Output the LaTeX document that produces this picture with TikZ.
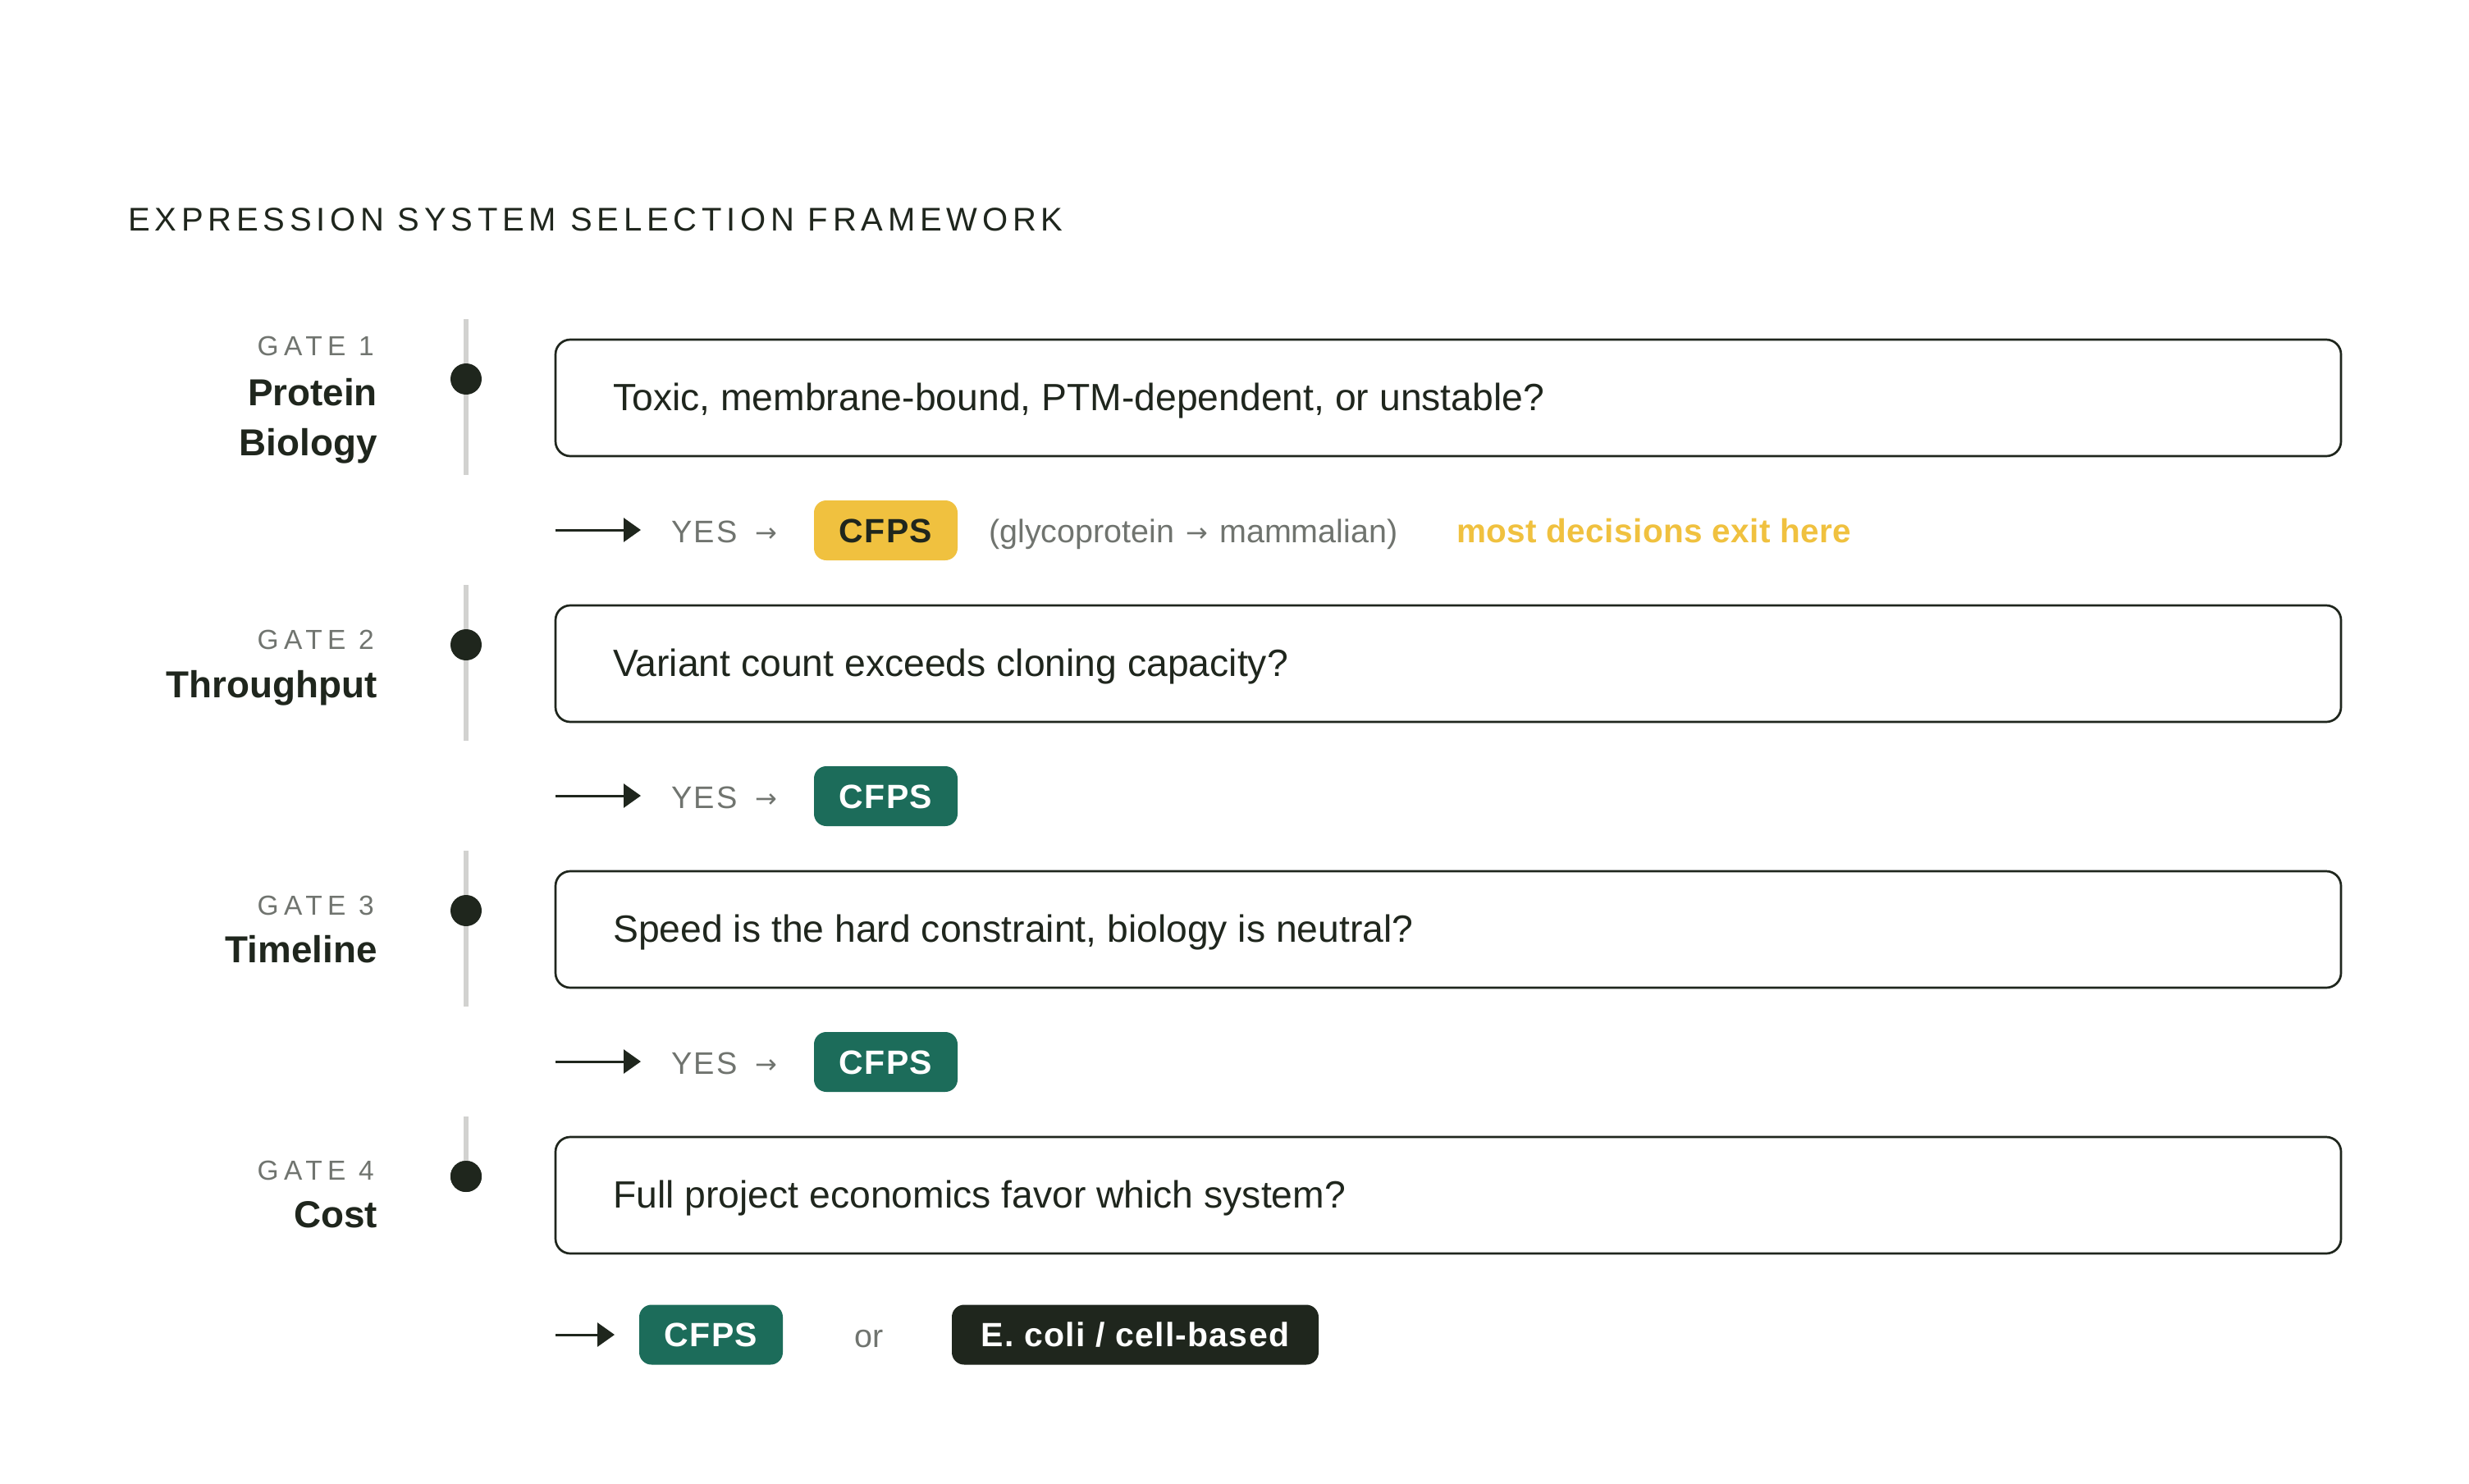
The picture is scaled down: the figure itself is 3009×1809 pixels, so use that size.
\documentclass[tikz,border=0pt]{standalone}
\usepackage{fontspec}
\setmainfont{Liberation Sans}
\newfontfamily\arrfont{DejaVu Sans}
\usetikzlibrary{arrows.meta}
\definecolor{ink}{HTML}{1F261D}
\definecolor{greenc}{HTML}{1C6C5A}
\definecolor{yellowc}{HTML}{F0C13F}
\definecolor{graytxt}{HTML}{70746F}
\definecolor{linegray}{HTML}{D2D2D0}
\newcommand{\smallarr}{\raisebox{0.5pt}{\arrfont\fontsize{32}{32}\selectfont →}}
\begin{document}
\begin{tikzpicture}[x=1pt,y=-1pt,
  qbox/.style={draw=ink, line width=2.7pt, rounded corners=18pt, minimum width=2176pt, minimum height=142pt, inner sep=0pt},
  qtext/.style={anchor=base west, inner sep=0pt, text=ink, font=\fontsize{46.3}{50}\selectfont},
  gatetag/.style={anchor=base east, inner sep=0pt, text=graytxt, font={\fontsize{33.5}{40}\selectfont\addfontfeatures{LetterSpace=19}}},
  gatename/.style={anchor=base east, inner sep=0pt, text=ink, font={\fontsize{45.8}{50}\selectfont\bfseries}},
  vline/.style={draw=linegray, line width=6pt},
  dot/.style={circle, fill=ink, minimum size=38pt, inner sep=0pt},
  arr/.style={draw=ink, line width=3pt, -{Triangle[length=21pt,width=29pt]}},
  yes/.style={anchor=base west, inner sep=0pt, text=graytxt, font=\fontsize{38}{40}\selectfont},
  badge/.style={rounded corners=15pt, minimum height=73pt, inner sep=0pt, text height=29.4pt, text depth=0pt, font={\fontsize{41}{41}\selectfont\bfseries\addfontfeatures{LetterSpace=3}}},
  note/.style={anchor=base west, inner sep=0pt, text=graytxt, font=\fontsize{39.5}{40}\selectfont},
  hint/.style={anchor=base west, inner sep=0pt, text=yellowc, font={\fontsize{40.5}{40}\selectfont\bfseries\addfontfeatures{LetterSpace=1}}}
]
\fill[white] (0,0) rectangle (3009,1809);
\useasboundingbox (0,0) rectangle (3009,1809);

% title
\node[anchor=base west, inner sep=0pt, text=ink, font={\fontsize{40}{40}\selectfont\addfontfeatures{LetterSpace=14.4}}] (title) at (156,281) {EXPRESSION SYSTEM SELECTION FRAMEWORK};

% timeline lines
\coordinate (l1t) at (568,389); \coordinate (l1b) at (568,579);
\coordinate (l2t) at (568,713); \coordinate (l2b) at (568,903);
\coordinate (l3t) at (568,1037); \coordinate (l3b) at (568,1227);
\coordinate (l4t) at (568,1361);
\draw[vline] (l1t) -- (l1b);
\draw[vline] (l2t) -- (l2b);
\draw[vline] (l3t) -- (l3b);
\node[dot] (d1) at (568,462) {};
\node[dot] (d2) at (568,786) {};
\node[dot] (d3) at (568,1110) {};
\node[dot] (d4) at (568,1434) {};
\draw[vline] (l4t) -- (d4.center);
\node[dot] at (d4) {};

% gate labels
\node[gatetag] (g1) at (456,433) {GATE 1};
\node[gatename] (n1a) at (460,494) {Protein};
\node[gatename] (n1b) at (460,555) {Biology};
\node[gatetag] (g2) at (456,791) {GATE 2};
\node[gatename] (n2) at (460,850) {Throughput};
\node[gatetag] (g3) at (456,1115) {GATE 3};
\node[gatename] (n3) at (460,1173) {Timeline};
\node[gatetag] (g4) at (456,1438) {GATE 4};
\node[gatename] (n4) at (460,1496) {Cost};

% question boxes
\node[qbox] (b1) at (1765,485) {};
\node[qbox] (b2) at (1765,809) {};
\node[qbox] (b3) at (1765,1133) {};
\node[qbox] (b4) at (1765,1457) {};
\node[qtext] (q1) at (747,500) {Toxic, membrane-bound, PTM-dependent, or unstable?};
\node[qtext] (q2) at (747,824) {Variant count exceeds cloning capacity?};
\node[qtext] (q3) at (747,1148) {Speed is the hard constraint, biology is neutral?};
\node[qtext] (q4) at (747,1472) {Full project economics favor which system?};

% outcome rows
\coordinate (a1s) at (677,646); \coordinate (a1e) at (781,646);
\coordinate (a2s) at (677,970); \coordinate (a2e) at (781,970);
\coordinate (a3s) at (677,1294); \coordinate (a3e) at (781,1294);
\coordinate (a4s) at (677,1627); \coordinate (a4e) at (749,1627);
\draw[arr] (a1s) -- (a1e);
\draw[arr] (a2s) -- (a2e);
\draw[arr] (a3s) -- (a3e);
\draw[arr] (a4s) -- (a4e);

\node[yes] (y1) at (818,661) {{\addfontfeatures{LetterSpace=6}YES}\hspace{22pt}\smallarr};
\node[yes] (y2) at (818,985) {{\addfontfeatures{LetterSpace=6}YES}\hspace{22pt}\smallarr};
\node[yes] (y3) at (818,1309) {{\addfontfeatures{LetterSpace=6}YES}\hspace{22pt}\smallarr};

\node[badge, fill=yellowc, text=ink, minimum width=175pt] (c1) at (1079.5,646.5) {CFPS};
\node[badge, fill=greenc, text=white, minimum width=175pt] (c2) at (1079.5,970.5) {CFPS};
\node[badge, fill=greenc, text=white, minimum width=175pt] (c3) at (1079.5,1294.5) {CFPS};
\node[note] (gl) at (1205,661) {(glycoprotein\hspace{14pt}\smallarr\hspace{14pt}mammalian)};
\node[hint] (mx) at (1775,661) {most decisions exit here};

\node[badge, fill=greenc, text=white, minimum width=175pt] (c4) at (866.5,1627) {CFPS};
\node[note] (or) at (1041,1642) {or};
\node[badge, fill=ink, text=white, minimum width=447pt] (ec) at (1383.5,1627) {E. coli / cell-based};
\end{tikzpicture}
\end{document}
